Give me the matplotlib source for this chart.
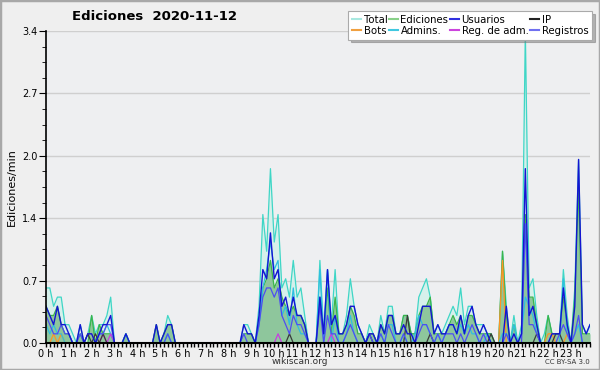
import numpy as np
import matplotlib
matplotlib.use("Agg")
import matplotlib.pyplot as plt
from matplotlib.lines import Line2D
from matplotlib.patches import Rectangle

# edits per 10-minute bin, 6 bins per hour (0h .. 23h50)
total = [
    6, 6, 4, 5, 5, 2,
    2, 1, 0, 2, 0, 1,
    3, 1, 2, 2, 3, 5,
    0, 0, 0, 1, 0, 0,
    0, 0, 0, 0, 0, 2,
    0, 1, 3, 2, 0, 0,
    0, 0, 0, 0, 0, 0,
    0, 0, 0, 0, 0, 0,
    0, 0, 0, 0, 2, 2,
    1, 0, 4, 14, 10, 19,
    11, 14, 6, 7, 5, 9,
    5, 6, 3, 0, 0, 0,
    9, 1, 8, 2, 8, 1,
    1, 3, 7, 4, 2, 1,
    0, 2, 1, 0, 3, 1,
    4, 4, 1, 1, 3, 3,
    1, 1, 5, 6, 7, 5,
    1, 2, 1, 2, 3, 4,
    3, 6, 2, 4, 4, 2,
    2, 2, 1, 1, 0, 0,
    10, 4, 0, 3, 0, 2,
    34, 6, 7, 3, 0, 1,
    3, 1, 1, 1, 8, 3,
    0, 6, 20, 2, 1, 2,
]
ediciones = [
    4, 3, 3, 4, 2, 1,
    1, 0, 0, 1, 0, 0,
    3, 0, 2, 1, 1, 1,
    0, 0, 0, 1, 0, 0,
    0, 0, 0, 0, 0, 2,
    0, 1, 2, 2, 0, 0,
    0, 0, 0, 0, 0, 0,
    0, 0, 0, 0, 0, 0,
    0, 0, 0, 0, 1, 1,
    1, 0, 2, 6, 7, 9,
    6, 7, 5, 4, 3, 4,
    3, 3, 2, 0, 0, 0,
    5, 1, 6, 1, 5, 1,
    1, 2, 4, 3, 1, 1,
    0, 1, 1, 0, 2, 1,
    3, 3, 1, 1, 3, 3,
    1, 1, 3, 4, 4, 5,
    1, 1, 1, 1, 2, 3,
    2, 3, 1, 3, 3, 2,
    1, 1, 1, 1, 0, 0,
    10, 3, 0, 2, 0, 1,
    14, 5, 5, 2, 0, 0,
    3, 1, 1, 1, 5, 2,
    0, 5, 17, 1, 1, 1,
]
usuarios = [
    4, 3, 2, 4, 2, 2,
    1, 0, 0, 2, 0, 1,
    1, 0, 1, 2, 2, 3,
    0, 0, 0, 1, 0, 0,
    0, 0, 0, 0, 0, 2,
    0, 1, 2, 2, 0, 0,
    0, 0, 0, 0, 0, 0,
    0, 0, 0, 0, 0, 0,
    0, 0, 0, 0, 2, 1,
    1, 0, 3, 8, 7, 12,
    7, 8, 4, 5, 3, 5,
    3, 3, 2, 0, 0, 0,
    5, 1, 8, 2, 3, 1,
    1, 2, 4, 4, 2, 1,
    0, 1, 1, 0, 2, 1,
    3, 3, 1, 1, 2, 1,
    1, 0, 2, 4, 4, 4,
    1, 2, 1, 1, 2, 2,
    1, 3, 1, 3, 4, 2,
    1, 2, 1, 0, 0, 0,
    0, 4, 0, 1, 0, 1,
    19, 3, 4, 2, 0, 0,
    0, 1, 1, 1, 6, 2,
    0, 4, 20, 2, 1, 2,
]
registros = [
    3, 2, 1, 1, 2, 1,
    1, 0, 0, 1, 0, 0,
    0, 0, 1, 1, 2, 2,
    0, 0, 0, 0, 0, 0,
    0, 0, 0, 0, 0, 0,
    0, 0, 1, 0, 0, 0,
    0, 0, 0, 0, 0, 0,
    0, 0, 0, 0, 0, 0,
    0, 0, 0, 0, 1, 0,
    0, 0, 2, 5, 6, 6,
    5, 6, 3, 2, 1, 3,
    2, 2, 1, 0, 0, 0,
    4, 0, 3, 1, 1, 0,
    0, 1, 2, 1, 0, 0,
    0, 1, 0, 0, 1, 0,
    2, 1, 0, 0, 1, 0,
    0, 0, 1, 2, 2, 1,
    0, 1, 0, 1, 1, 1,
    0, 1, 0, 1, 2, 1,
    0, 1, 0, 0, 0, 0,
    0, 1, 0, 0, 0, 0,
    13, 2, 2, 1, 0, 0,
    0, 0, 0, 1, 2, 1,
    0, 1, 3, 0, 0, 0,
]
admins = [
    2, 1, 2, 1, 1, 0,
    0, 0, 0, 0, 0, 0,
    0, 0, 1, 1, 2, 1,
    0, 0, 0, 1, 0, 0,
    0, 0, 0, 0, 0, 0,
    0, 0, 1, 0, 0, 0,
    0, 0, 0, 0, 0, 0,
    0, 0, 0, 0, 0, 0,
    0, 0, 0, 0, 0, 0,
    0, 0, 2, 6, 8, 11,
    8, 9, 3, 4, 2, 6,
    2, 1, 1, 0, 0, 0,
    8, 0, 8, 0, 3, 0,
    0, 1, 3, 1, 0, 0,
    0, 1, 0, 0, 1, 0,
    2, 2, 0, 0, 1, 0,
    0, 1, 3, 2, 2, 1,
    0, 1, 0, 1, 2, 2,
    1, 2, 1, 2, 1, 1,
    0, 0, 1, 0, 0, 0,
    1, 1, 0, 2, 0, 1,
    5, 4, 3, 1, 0, 0,
    0, 0, 0, 0, 7, 1,
    0, 1, 2, 0, 0, 0,
]
ip = [0] * 144
for b, v in [(11, 1), (13, 1), (15, 1), (64, 1), (85, 1), (95, 3), (101, 1),
             (117, 1), (129, 1), (134, 1), (135, 1)]:
    ip[b] = v
bots = [0] * 144
for b, v in [(2, 1), (4, 1), (120, 9), (132, 1), (133, 1), (137, 1)]:
    bots[b] = v
reg_adm = [0] * 144
for b, v in [(15, 1), (17, 1), (61, 1), (75, 1)]:
    reg_adm[b] = v

hour_labels = ["%d h" % h for h in range(24)]

x = np.arange(144) / 6.0
per_min = lambda s: np.array(s) / 10.0

plt.rcParams['font.family'] = ['DejaVu Sans']
fig = plt.figure(figsize=(6, 3.7), dpi=100, facecolor='#efefef')
fig.patches.append(Rectangle((0, 0), 1, 1, transform=fig.transFigure,
                             fill=False, edgecolor='#a8a8a8', linewidth=2.5))
ax = fig.add_axes([46 / 600, 27 / 370, 544 / 600, 312 / 370])
ax.set_facecolor('#eeeff1')

ax.fill_between(x, per_min(total), color='#d6f0eb', lw=0)
ax.fill_between(x, per_min(ediciones), color='#8ec69c', lw=0)
ax.plot(x, per_min(total), color='#3fd6c6', lw=0.9)
ax.plot(x, per_min(ediciones), color='#3cb44a', lw=0.9)
ax.plot(x, per_min(bots), color='#ff9424', lw=0.9)
ax.plot(x, per_min(admins), color='#2fbfe0', lw=0.9)
ax.plot(x, per_min(reg_adm), color='#c83ee0', lw=0.9)
ax.plot(x, per_min(ip), color='#3a3a3a', lw=0.9)
ax.plot(x, per_min(registros), color='#4e4ef2', lw=0.9)
ax.plot(x, per_min(usuarios), color='#1414d2', lw=1.0)

ax.set_xlim(0, 143 / 6)
ax.set_ylim(0, 3.4)
ax.set_xticks(np.arange(24))
ax.set_xticklabels(hour_labels)
ax.set_xticks(x, minor=True)
yt = np.arange(6) * 0.68
ax.set_yticks(yt)
ax.set_yticklabels(["%.1f" % v for v in yt])
ax.set_yticks(np.arange(21) * 0.17, minor=True)
ax.tick_params(axis='x', which='both', length=3, width=1, labelsize=7, pad=1)
ax.tick_params(axis='y', which='major', length=5, labelsize=7, pad=1)
ax.tick_params(axis='y', which='minor', length=3)
ax.grid(axis='y', color='#cfcfcf', lw=1)
ax.set_axisbelow(True)
for s in ['top', 'right']:
    ax.spines[s].set_visible(False)
ax.spines['left'].set_linewidth(1.2)
ax.spines['bottom'].set_linewidth(1.5)

ax.set_ylabel("Ediciones/min", fontsize=8, labelpad=4)
fig.text(0.257, 0.955, "Ediciones  2020-11-12", ha='center', va='center',
         fontsize=9.5, fontweight='bold')
fig.text(0.5, 0.022, "wikiscan.org", ha='center', va='center', fontsize=6.5,
         color='#333333')
fig.text(0.983, 0.022, "CC BY-SA 3.0", ha='right', va='center', fontsize=5,
         color='#333333')

handles = [
    Line2D([], [], color='#a8e8e0'), Line2D([], [], color='#f0a040'),
    Line2D([], [], color='#88d088'), Line2D([], [], color='#40c8e0'),
    Line2D([], [], color='#3030e0'), Line2D([], [], color='#cc44dd'),
    Line2D([], [], color='#222222'), Line2D([], [], color='#7070f0'),
]
labels = ["Total", "Bots", "Ediciones", "Admins.", "Usuarios",
          "Reg. de adm.", "IP", "Registros"]
leg = fig.legend(handles, labels, ncol=4, loc='upper right',
                 bbox_to_anchor=(0.99, 0.975), fontsize=7.3, frameon=True,
                 fancybox=False, shadow={'color': '#777777'}, handlelength=0.9,
                 handletextpad=0.25, columnspacing=0.15, labelspacing=0.12,
                 borderpad=0.35, borderaxespad=0.2)
leg.get_frame().set_edgecolor('#aaaaaa')
leg.get_frame().set_linewidth(0.8)

fig.savefig("out.png", dpi=100, facecolor=fig.get_facecolor())
